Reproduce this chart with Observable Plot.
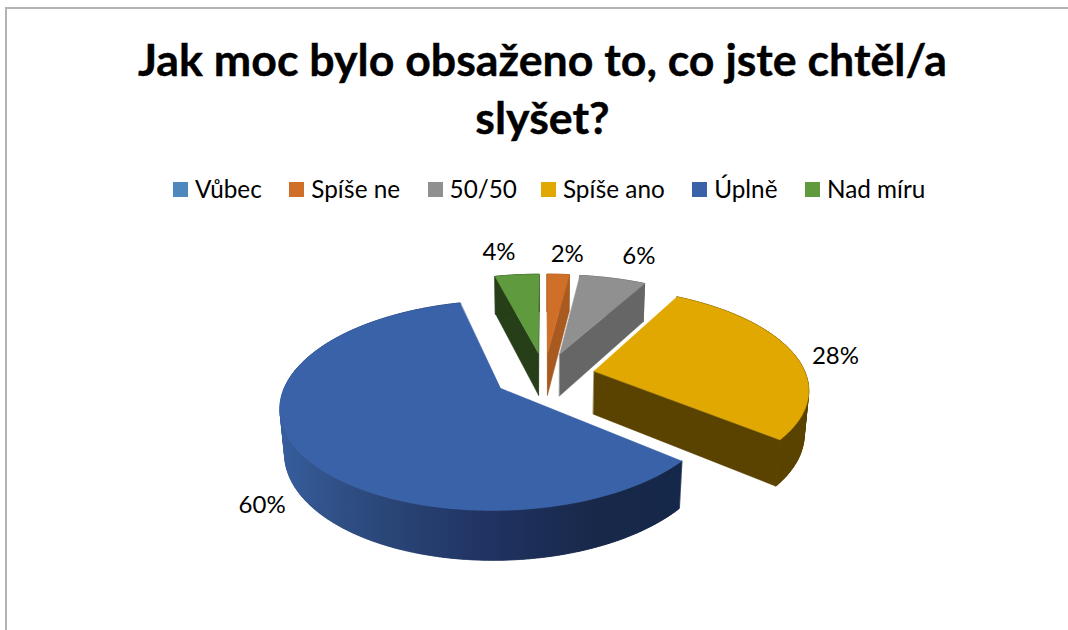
<!DOCTYPE html>
<html lang="cs"><head><meta charset="utf-8">
<script src="https://cdn.jsdelivr.net/npm/d3@7"></script>
<script src="https://cdn.jsdelivr.net/npm/@observablehq/plot@0.6"></script>
<style>
html,body{margin:0;padding:0;background:#fff;overflow:hidden}
#page{position:relative;width:1068px;height:630px;box-sizing:border-box;font-family:Lato,sans-serif;color:#000}
#frame{position:absolute;left:5px;top:7px;right:-10px;bottom:-10px;border-left:2px solid #b3b3b3;border-top:2px solid #b3b3b3}
#title{position:absolute;left:0;width:1085px;top:30px;text-align:center;font-weight:700;font-size:44.7px;line-height:58px;-webkit-text-stroke:.4px #000}
#legend{position:absolute;left:173px;top:174px;display:flex;font-size:24.3px;line-height:30px;white-space:nowrap}
#legend .it{display:flex;align-items:center;margin-right:27.5px}
#legend .it:nth-child(3){margin-right:24px}
#legend .sw{display:inline-block;width:15px;height:15px;margin-right:7px}
#chart{position:absolute;left:0;top:210px}
#chart svg{display:block}
</style></head><body>
<div id="page"><div id="frame"></div>
<div id="title">Jak moc bylo obsaženo to, co jste chtěl/a<br>slyšet?</div>
<div id="legend"></div>
<div id="chart"></div></div>
<script>
const categories = ["Vůbec","Spíše ne","50/50","Spíše ano","Úplně","Nad míru"];
const values = [0,2,6,28,60,4];
const topColors = ["#4f88bd","#cf6f28","#909090","#e0a800","#3a62a8","#5f9a3f"];
const wallColors = ["#3a6289","#a85a20","#666666","#5a4300","url(#blueWall)","#263f18"];

// projection of the exploded pie (world units: radius = 1)
const cx=544, cy=375, R=212, explode=.24, persp=.16, tilt=98, depth=44, depthPersp=.017;
const project=(X,Y,Z)=>{const w=1-persp*Y+depthPersp*Z;return [cx+X*R/w, cy+(tilt*Y+depth*Z)/w];};

const total=d3.sum(values);
let acc=0;
const slices=categories.map((name,i)=>{
  const a0=acc/total*2*Math.PI; acc+=values[i]; const a1=acc/total*2*Math.PI;
  const mid=(a0+a1)/2;
  return {name,i,value:values[i],a0,a1,mid,ox:explode*Math.sin(mid),oy:-explode*Math.cos(mid)};
}).filter(s=>s.value>0);

const polys=[]; let pid=0;
const addPoly=(pts,color)=>{const id=pid++;for(const p of pts)polys.push({id,x:p[0],y:p[1],color});};
const arcPt=(s,a,Z)=>project(s.ox+Math.sin(a),s.oy-Math.cos(a),Z);
const apex=(s,Z)=>project(s.ox,s.oy,Z);

for(const s of slices){
  const wall=wallColors[s.i];
  const am=apex(s,0), mid=arcPt(s,s.mid,0);
  // radial walls that face the viewer
  for(const a of [s.a0,s.a1]){
    const t=arcPt(s,a,0);
    let dx=t[0]-am[0],dy=t[1]-am[1]; if(dx<0){dx=-dx;dy=-dy;}
    if(dx*(mid[1]-am[1])-dy*(mid[0]-am[0])<0)
      addPoly([am,t,arcPt(s,a,1),apex(s,1)],wall);
  }
  const n=Math.max(4,Math.ceil((s.a1-s.a0)/0.02));
  const angles=d3.range(n+1).map(k=>s.a0+(s.a1-s.a0)*k/n);
  // swept quads fill the silhouette; a single outline on top hides their seams
  for(let k=0;k<n;k++)
    addPoly([arcPt(s,angles[k],0),arcPt(s,angles[k+1],0),arcPt(s,angles[k+1],1),arcPt(s,angles[k],1)],wall);
  addPoly([...angles.map(a=>arcPt(s,a,0)),...angles.slice().reverse().map(a=>arcPt(s,a,1))],wall);
  addPoly([am,...angles.map(a=>arcPt(s,a,0))],topColors[s.i]);
}

const labelOffsets={1:[9,-20],2:[26,-22],3:[42,3],4:[-34,57],5:[-18,-22]};
const labels=slices.map(s=>{const p=arcPt(s,s.mid,0),o=labelOffsets[s.i];return {x:p[0]+o[0],y:p[1]+o[1],t:s.value+"%"};});

const gradientStops=[[285,"#365c9b"],[340,"#304f85"],[400,"#284374"],[487,"#203362"],[600,"#172848"],[677,"#16284a"]];
const defs=()=>{
  const d=d3.create("svg:defs");
  const g=d.append("linearGradient").attr("id","blueWall").attr("gradientUnits","userSpaceOnUse")
    .attr("x1",gradientStops[0][0]).attr("x2",gradientStops[5][0]).attr("y1",0).attr("y2",0);
  for(const [x,c] of gradientStops)
    g.append("stop").attr("offset",(x-285)/(677-285)).attr("stop-color",c);
  return d.node();
};

const plot=Plot.plot({
  width:1068,height:420,margin:0,
  x:{domain:[0,1068],range:[0,1068],axis:null},
  y:{domain:[210,630],range:[0,420],axis:null},
  color:{type:"identity"},
  marks:[
    defs,
    Plot.line(polys,{x:"x",y:"y",z:"id",fill:"color",stroke:"color",strokeWidth:0.5,curve:"linear-closed"}),
    Plot.text(labels,{x:"x",y:"y",text:"t",fontSize:24,fontFamily:"Lato",fill:"#000"})
  ]
});
document.getElementById("chart").append(plot);

const lg=document.getElementById("legend");
categories.forEach((c,i)=>{
  const it=document.createElement("span");it.className="it";
  const sw=document.createElement("span");sw.className="sw";sw.style.background=topColors[i];
  it.append(sw,document.createTextNode(c));lg.append(it);
});
</script></body></html>
